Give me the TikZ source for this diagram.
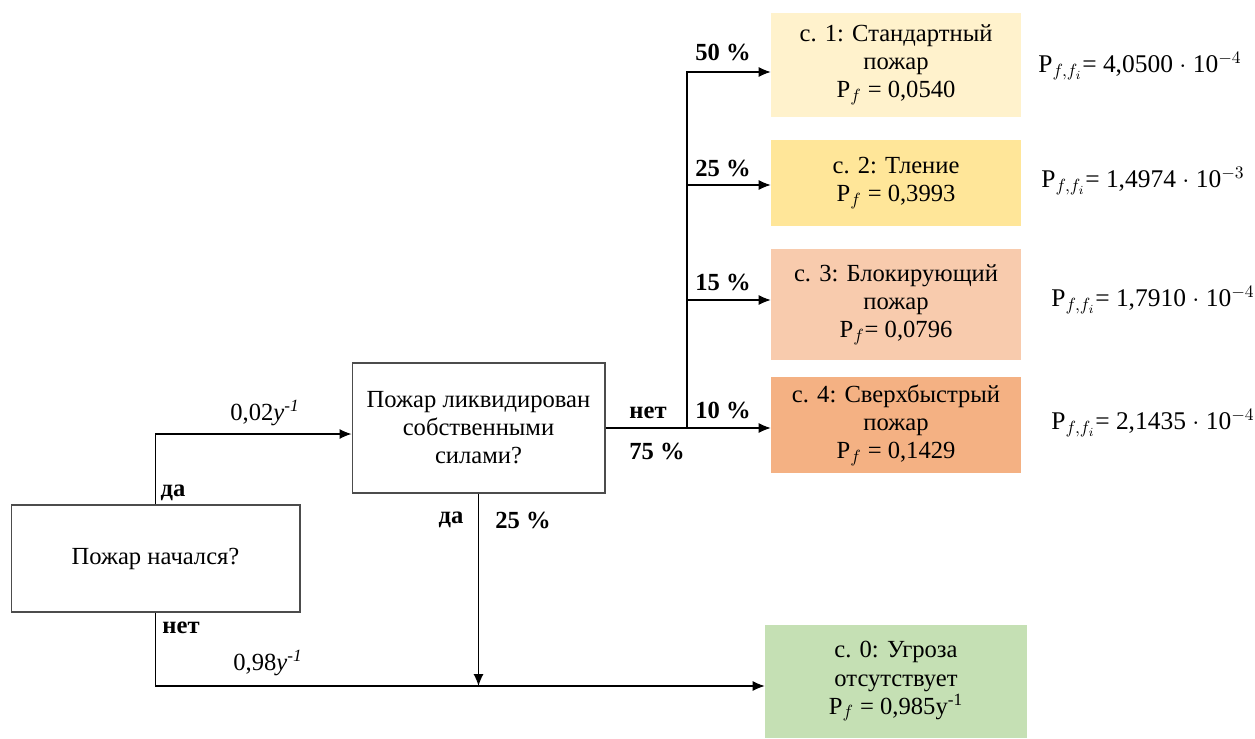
\documentclass[tikz,border=0pt]{standalone}
\usepackage{fontspec}
\setmainfont{Liberation Serif}
\usepackage{amsmath}
\usetikzlibrary{arrows.meta}

\definecolor{scOne}{HTML}{FFF2CC}
\definecolor{scTwo}{HTML}{FFE699}
\definecolor{scThree}{HTML}{F8CBAD}
\definecolor{scFour}{HTML}{F4B183}
\definecolor{scZero}{HTML}{C5E0B4}

\tikzset{
	qbox/.style={draw=black!70, line width=0.6pt, align=center, font=\fontsize{14}{16}\selectfont},
	scbox/.style={align=center, minimum width=5cm, font=\fontsize{14}{16}\selectfont},
	arr/.style={-{Latex[length=0.24cm,width=0.2cm]}, line width=0.6pt},
	ln/.style={line width=0.6pt},
	lbl/.style={font=\bfseries\fontsize{14}{16}\selectfont},
	rate/.style={font=\fontsize{14}{16}\selectfont},
	pff/.style={font=\fontsize{14.5}{16}\selectfont}
}

\begin{document}
\begin{tikzpicture}[x=0.02cm, y=-0.02cm]
	\useasboundingbox (0,0) rectangle (1255,738);

	% Draw question boxes
	\node[qbox, minimum width=5.78cm, minimum height=2.14cm] (start) at (155.5,558.5) {Пожар начался?};
	\node[qbox, minimum width=5.06cm, minimum height=2.6cm] (mid) at (478.5,428) {Пожар ликвидирован\\собственными\\силами?};

	% Draw scenario boxes
	\node[scbox, fill=scOne, minimum height=2.08cm] (c1) at (896,65) {с. 1: Стандартный\\пожар\\P$_f$ = 0,0540};
	\node[scbox, fill=scTwo, minimum height=1.72cm] (c2) at (896,183) {с. 2: Тление\\P$_f$ = 0,3993};
	\node[scbox, fill=scThree, minimum height=2.22cm] (c3) at (896,304.5) {с. 3: Блокирующий\\пожар\\P$_f$= 0,0796};
	\node[scbox, fill=scFour, minimum height=1.92cm] (c4) at (896,425) {с. 4: Сверхбыстрый\\пожар\\P$_f$ = 0,1429};
	\node[scbox, fill=scZero, minimum width=5.24cm, minimum height=2.26cm] (c0) at (896,681.5) {с. 0: Угроза\\отсутствует\\P$_f$ = 0,985y\textsuperscript{-1}};

	% Branch points
	\coordinate (split) at (687,428);
	\coordinate (in0) at ([yshift=-0.09cm]c0.west);
	\coordinate (join) at (mid.south |- in0);

	% Draw connectors
	\draw[arr] (start.north) |- ([yshift=-0.12cm]mid.west);
	\draw[arr] (start.south) |- (in0);
	\draw[arr] (mid.south) -- (join);
	\draw[ln] (mid.east) -- (split);
	\draw[arr] (split) |- ([yshift=-0.14cm]c1.west);
	\draw[arr] (split) |- ([yshift=-0.04cm]c2.west);
	\draw[arr] (split) |- ([yshift=0.09cm]c3.west);
	\draw[arr] (split) -- (split -| c4.west);

	% Branch labels
	\node[rate] (r1) at (265,413) {0,02\textit{y}\textsuperscript{\textit{-1}}};
	\node[lbl] (yes1) at (173,493) {да};
	\node[lbl] (no1) at (181,628) {нет};
	\node[rate] (r2) at (268,663) {0,98\textit{y}\textsuperscript{\textit{-1}}};
	\node[lbl] (no2) at (648,413) {нет};
	\node[lbl] (p75) at (657,451) {75 \%};
	\node[lbl] (yes2) at (451,520) {да};
	\node[lbl] (p25b) at (523,520) {25 \%};
	\node[lbl] (p50) at (723,52) {50 \%};
	\node[lbl] (p25) at (723,168) {25 \%};
	\node[lbl] (p15) at (723,282) {15 \%};
	\node[lbl] (p10) at (723,410) {10 \%};

	% Frequencies of scenarios
	\node[pff] (f1) at (1140,66) {P$_{f,f_i}$= 4,0500 $\cdot$ 10$^{-4}$};
	\node[pff] (f2) at (1143,181) {P$_{f,f_i}$= 1,4974 $\cdot$ 10$^{-3}$};
	\node[pff] (f3) at (1153,300) {P$_{f,f_i}$= 1,7910 $\cdot$ 10$^{-4}$};
	\node[pff] (f4) at (1153,423) {P$_{f,f_i}$= 2,1435 $\cdot$ 10$^{-4}$};
\end{tikzpicture}
\end{document}
